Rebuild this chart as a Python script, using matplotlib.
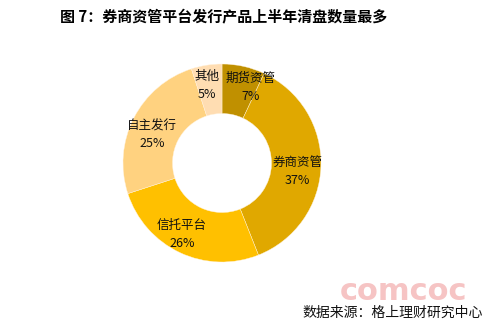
import numpy as np
import matplotlib
matplotlib.use("Agg")
import matplotlib.pyplot as plt

plt.rcParams['font.family'] = ['Noto Sans CJK SC', 'DejaVu Sans']

categories = ["期货资管", "券商资管", "信托平台", "自主发行", "其他"]
shares = [7, 37, 26, 25, 5]
colors = ["#C09000", "#E0A800", "#FFC000", "#FFD280", "#FFDDB2"]
# small horizontal / vertical nudges for the crowded labels at the top
nudge_x = [0.12, 0.0, -0.08, -0.03, -0.03]
nudge_y = [0.02, -0.06, -0.03, -0.06, 0.03]

title = "图 7：券商资管平台发行产品上半年清盘数量最多"
source = "数据来源：格上理财研究中心"

W, H = 490, 327
fig = plt.figure(figsize=(W / 100, H / 100), dpi=100)
fig.patch.set_facecolor("white")

cx, cy, r = 222, 163, 99
ax = fig.add_axes([(cx - r) / W, (H - cy - r) / H, 2 * r / W, 2 * r / H])
wedges, _ = ax.pie(shares, colors=colors, startangle=90, counterclock=False,
                   radius=1.0, wedgeprops=dict(width=0.5, edgecolor="#FFF3DC", linewidth=0.3))
ax.set_xlim(-1, 1)
ax.set_ylim(-1, 1)
ax.set_aspect("equal")
ax.axis("off")

for w, name, val, dx, dy in zip(wedges, categories, shares, nudge_x, nudge_y):
    ang = np.deg2rad((w.theta1 + w.theta2) / 2)
    x = 0.76 * np.cos(ang) + dx
    y = 0.76 * np.sin(ang) + dy
    ax.text(x, y, f"{name}\n{val}%", ha="center", va="center", fontsize=9,
            linespacing=1.5, color="#111111")

fig.text(60 / W, 1 - 17 / H, title, fontsize=10.8, fontweight="bold",
         ha="left", va="center", color="black")
fig.text(340 / W, 1 - 292 / H, "comcoc", fontsize=22, fontweight="bold",
         color="#F6C4C4", ha="left", va="center", fontfamily="DejaVu Sans")
fig.text(483 / W, 1 - 313 / H, source, fontsize=10, ha="right", va="center",
         color="#111111")

fig.savefig("out.png", dpi=100)
